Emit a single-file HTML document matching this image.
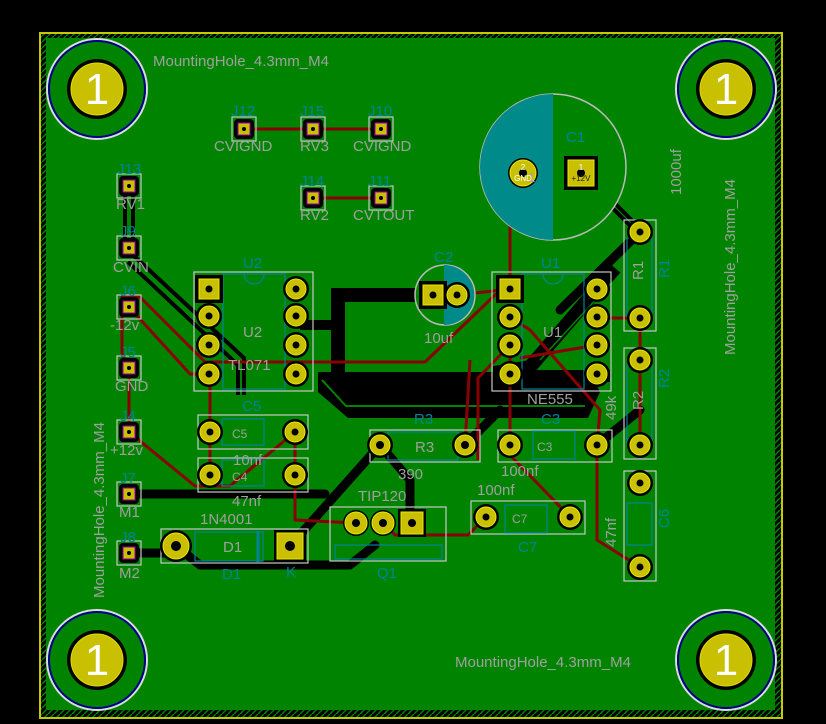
<!DOCTYPE html>
<html><head><meta charset="utf-8"><style>
html,body{margin:0;padding:0;background:#000;}
svg{display:block}
text{font-family:"Liberation Sans",sans-serif;}
</style></head><body>
<svg width="826" height="724" viewBox="0 0 826 724" xmlns="http://www.w3.org/2000/svg">
<defs>
<pattern id="hat" width="6" height="6" patternUnits="userSpaceOnUse"><rect width="6" height="6" fill="#000"/><path d="M0,6 L6,0" stroke="#008400" stroke-width="1.5"/></pattern>
</defs>
<rect width="826" height="724" fill="#000"/>
<rect x="40" y="33" width="742" height="685" fill="url(#hat)" stroke="#c8c800" stroke-width="2"/>
<rect x="46" y="38" width="729" height="672" fill="#008400"/>

<!-- zone outline / bands -->
<path d="M318,372 L590,372 L600,392 L588,418 L348,418 L318,392 Z" fill="#000"/>
<path d="M300,325 L336,325" stroke="#000" stroke-width="10"/>
<path d="M430,295 L338,295 L338,372" stroke="#000" stroke-width="14" fill="none"/>
<path d="M346,303 L420,303 M346,303 L346,365 L500,365" stroke="#008400" stroke-width="2" fill="none"/>
<path d="M322,380 L346,406 L585,406" stroke="#008400" stroke-width="2" fill="none"/>
<path d="M497,376 L610,376" stroke="#000" stroke-width="12"/>
<path d="M615,268 L530,367 L500,372 L500,395" stroke="#000" stroke-width="14" fill="none"/>
<path d="M612,282 L540,360" stroke="#008400" stroke-width="1.5"/>
<!-- black tracks -->
<g stroke="#000" stroke-width="9" fill="none" stroke-linecap="round" stroke-linejoin="round">
<path d="M129,494 L325,494"/>
<path d="M129,553 L176,553 M176,546 L200,565 L350,565 L375,545"/>
<path d="M290,546 L340,490 L380,445 M380,445 L410,480 L410,520"/>
<path d="M581,173 L640,232 L560,310"/>
<path d="M465,445 L500,410 M597,445 L640,410"/>
</g>
<g stroke="#000" stroke-width="4" fill="none">
<path d="M125,186 L125,248 M133,186 L133,248"/>
<path d="M128,262 L238,365 L238,395 M134,256 L244,358 L244,395"/>
</g>
<g stroke="#008400" stroke-width="1.2" fill="none">
<path d="M586,178 L640,232"/>
</g>
<!-- red tracks -->
<g stroke="#8a0000" stroke-width="3" fill="none" stroke-linejoin="round">
<path d="M244,129 L381,129 M313,198 L381,198"/>
<path d="M523,173 L510,190 L510,289 L457,295"/>
<path d="M510,289 L495,295 L425,362 L205,362 L140,297 L122,297 L122,355 L129,365 L129,432 L195,486 L230,486 L295,432"/>
<path d="M129,307 L190,374 L205,374"/>
<path d="M210,374 L210,475 M295,432 L295,520 L356,523"/>
<path d="M383,523 L395,535 L468,535 L486,517"/>
<path d="M510,317 L530,330 L600,410 L597,445 L597,540 L640,567"/>
<path d="M510,445 L510,345 M510,455 L570,517"/>
<path d="M510,345 L478,378 L478,460 M465,445 L470,360"/>
<path d="M597,318 L640,318 L640,445 M597,345 L520,358"/>
</g>

<g font-size="44" fill="#fff" text-anchor="middle">
<g transform="translate(97,89)"><circle r="50" fill="none" stroke="#ddd" stroke-width="2"/><circle r="48" fill="none" stroke="#00008a" stroke-width="2"/><circle r="30" fill="#000"/><circle r="26" fill="#c8c000" stroke="#dede00" stroke-width="1"/><text y="15">1</text></g>
<g transform="translate(726,89)"><circle r="50" fill="none" stroke="#ddd" stroke-width="2"/><circle r="48" fill="none" stroke="#00008a" stroke-width="2"/><circle r="30" fill="#000"/><circle r="26" fill="#c8c000" stroke="#dede00" stroke-width="1"/><text y="15">1</text></g>
<g transform="translate(97,660)"><circle r="50" fill="none" stroke="#ddd" stroke-width="2"/><circle r="48" fill="none" stroke="#00008a" stroke-width="2"/><circle r="30" fill="#000"/><circle r="26" fill="#c8c000" stroke="#dede00" stroke-width="1"/><text y="15">1</text></g>
<g transform="translate(726,660)"><circle r="50" fill="none" stroke="#ddd" stroke-width="2"/><circle r="48" fill="none" stroke="#00008a" stroke-width="2"/><circle r="30" fill="#000"/><circle r="26" fill="#c8c000" stroke="#dede00" stroke-width="1"/><text y="15">1</text></g>
</g>

<!-- C1 big cap -->
<circle cx="553" cy="167" r="73" fill="#008400" stroke="#bbb" stroke-width="1.5"/>
<path d="M553,94 A73,73 0 0,0 553,240 Z" fill="#008a8a"/>
<!-- C2 -->
<circle cx="445" cy="295" r="30" fill="#008400" stroke="#bbb" stroke-width="1.5"/>
<path d="M444,265 A30,30 0 0,1 444,325 Z" fill="#008a8a"/>

<g fill="none" stroke="#c8c8c8" stroke-width="1.2">
<rect x="194" y="272" width="119" height="119"/>
<rect x="492" y="272" width="119" height="119"/>
<rect x="198" y="415" width="110" height="34"/>
<rect x="198" y="458" width="110" height="34"/>
<rect x="370" y="430" width="110" height="32"/>
<rect x="498" y="430" width="114" height="32"/>
<rect x="471" y="501" width="114" height="33"/>
<rect x="330" y="507" width="116" height="54"/>
<rect x="161" y="529" width="147" height="34"/>
<rect x="624" y="220" width="32" height="111"/>
<rect x="624" y="348" width="32" height="111"/>
<rect x="624" y="471" width="32" height="110"/>
<rect x="117" y="174" width="24" height="24"/><rect x="117" y="236" width="24" height="24"/><rect x="117" y="295" width="24" height="24"/><rect x="117" y="356" width="24" height="24"/><rect x="117" y="420" width="24" height="24"/><rect x="117" y="482" width="24" height="24"/><rect x="117" y="541" width="24" height="24"/>
<rect x="232" y="117" width="24" height="24"/><rect x="301" y="117" width="24" height="24"/><rect x="369" y="117" width="24" height="24"/><rect x="301" y="186" width="24" height="24"/><rect x="369" y="186" width="24" height="24"/>
</g>
<g fill="none" stroke="#00849a" stroke-width="1.2">
<rect x="223" y="274" width="62" height="115"/><path d="M244,274 A10,10 0 0,0 264,274"/>
<rect x="522" y="274" width="62" height="115"/><path d="M543,274 A10,10 0 0,0 563,274"/>
<rect x="222" y="419" width="42" height="26"/><rect x="222" y="460" width="42" height="26"/>
<rect x="388" y="432" width="70" height="28"/><rect x="533" y="431" width="42" height="28"/>
<rect x="505" y="505" width="42" height="28"/>
<rect x="335" y="545" width="107" height="14"/>
<rect x="195" y="532" width="68" height="29"/>
<rect x="627" y="238" width="25" height="78"/><rect x="627" y="365" width="25" height="78"/><rect x="627" y="503" width="25" height="42"/>
</g>
<path d="M258,531 L258,562" stroke="#00849a" stroke-width="3"/>

<g>
<g fill="#000">
<circle cx="209" cy="316" r="13"/><circle cx="209" cy="345" r="13"/><circle cx="209" cy="374" r="13"/>
<circle cx="296" cy="289" r="13"/><circle cx="296" cy="316" r="13"/><circle cx="296" cy="345" r="13"/><circle cx="296" cy="374" r="13"/>
<circle cx="510" cy="317" r="13"/><circle cx="510" cy="345" r="13"/><circle cx="510" cy="374" r="13"/>
<circle cx="597" cy="289" r="13"/><circle cx="597" cy="317" r="13"/><circle cx="597" cy="345" r="13"/><circle cx="597" cy="374" r="13"/>
<circle cx="210" cy="432" r="13"/><circle cx="295" cy="432" r="13"/><circle cx="210" cy="475" r="13"/><circle cx="295" cy="475" r="13"/>
<circle cx="380" cy="445" r="13"/><circle cx="465" cy="445" r="13"/><circle cx="510" cy="445" r="13"/><circle cx="597" cy="445" r="13"/>
<circle cx="486" cy="517" r="13"/><circle cx="570" cy="517" r="13"/>
<circle cx="356" cy="523" r="13"/><circle cx="383" cy="523" r="13"/>
<circle cx="176" cy="546" r="16"/>
<circle cx="640" cy="232" r="13"/><circle cx="640" cy="318" r="13"/><circle cx="640" cy="360" r="13"/><circle cx="640" cy="445" r="13"/><circle cx="640" cy="483" r="13"/><circle cx="640" cy="567" r="13"/>
<circle cx="457" cy="295" r="13"/><circle cx="523" cy="173" r="15"/>
<rect x="195" y="275" width="28" height="28"/><rect x="496" y="275" width="28" height="28"/>
<rect x="398" y="509" width="28" height="28"/><rect x="274" y="530" width="32" height="32"/>
<rect x="419" y="281" width="28" height="28"/><rect x="564" y="156" width="34" height="34"/>
</g>
<g fill="#c8c000" stroke="#e8e800" stroke-width="1">
<circle cx="209" cy="316" r="10"/><circle cx="209" cy="345" r="10"/><circle cx="209" cy="374" r="10"/>
<circle cx="296" cy="289" r="10"/><circle cx="296" cy="316" r="10"/><circle cx="296" cy="345" r="10"/><circle cx="296" cy="374" r="10"/>
<circle cx="510" cy="317" r="10"/><circle cx="510" cy="345" r="10"/><circle cx="510" cy="374" r="10"/>
<circle cx="597" cy="289" r="10"/><circle cx="597" cy="317" r="10"/><circle cx="597" cy="345" r="10"/><circle cx="597" cy="374" r="10"/>
<circle cx="210" cy="432" r="10"/><circle cx="295" cy="432" r="10"/><circle cx="210" cy="475" r="10"/><circle cx="295" cy="475" r="10"/>
<circle cx="380" cy="445" r="10"/><circle cx="465" cy="445" r="10"/><circle cx="510" cy="445" r="10"/><circle cx="597" cy="445" r="10"/>
<circle cx="486" cy="517" r="10"/><circle cx="570" cy="517" r="10"/>
<circle cx="356" cy="523" r="11"/><circle cx="383" cy="523" r="11"/>
<circle cx="176" cy="546" r="13"/>
<circle cx="640" cy="232" r="10"/><circle cx="640" cy="318" r="10"/><circle cx="640" cy="360" r="10"/><circle cx="640" cy="445" r="10"/><circle cx="640" cy="483" r="10"/><circle cx="640" cy="567" r="10"/>
<circle cx="457" cy="295" r="10"/><circle cx="523" cy="173" r="13"/>
<rect x="199" y="279" width="20" height="20"/><rect x="500" y="279" width="20" height="20"/>
<rect x="401" y="512" width="22" height="22"/><rect x="277" y="533" width="26" height="26"/>
<rect x="423" y="285" width="20" height="20"/><rect x="568" y="160" width="26" height="26"/>
</g>
<g fill="#000">
<circle cx="209" cy="289" r="3.5"/><circle cx="209" cy="316" r="3.5"/><circle cx="209" cy="345" r="3.5"/><circle cx="209" cy="374" r="3.5"/>
<circle cx="296" cy="289" r="3.5"/><circle cx="296" cy="316" r="3.5"/><circle cx="296" cy="345" r="3.5"/><circle cx="296" cy="374" r="3.5"/>
<circle cx="510" cy="289" r="3.5"/><circle cx="510" cy="317" r="3.5"/><circle cx="510" cy="345" r="3.5"/><circle cx="510" cy="374" r="3.5"/>
<circle cx="597" cy="289" r="3.5"/><circle cx="597" cy="317" r="3.5"/><circle cx="597" cy="345" r="3.5"/><circle cx="597" cy="374" r="3.5"/>
<circle cx="210" cy="432" r="3.5"/><circle cx="295" cy="432" r="3.5"/><circle cx="210" cy="475" r="3.5"/><circle cx="295" cy="475" r="3.5"/>
<circle cx="380" cy="445" r="4"/><circle cx="465" cy="445" r="4"/><circle cx="510" cy="445" r="3.5"/><circle cx="597" cy="445" r="3.5"/>
<circle cx="486" cy="517" r="3.5"/><circle cx="570" cy="517" r="3.5"/>
<circle cx="356" cy="523" r="4"/><circle cx="383" cy="523" r="4"/><circle cx="412" cy="523" r="4"/>
<circle cx="176" cy="546" r="5"/><circle cx="290" cy="546" r="5"/>
<circle cx="640" cy="232" r="3.5"/><circle cx="640" cy="318" r="3.5"/><circle cx="640" cy="360" r="3.5"/><circle cx="640" cy="445" r="3.5"/><circle cx="640" cy="483" r="3.5"/><circle cx="640" cy="567" r="3.5"/>
<circle cx="433" cy="295" r="3.5"/><circle cx="457" cy="295" r="3.5"/><circle cx="523" cy="173" r="4"/><circle cx="581" cy="173" r="4"/>
</g>
<g>
<g fill="#000">
<rect x="119" y="176" width="20" height="20" rx="4"/><rect x="119" y="238" width="20" height="20" rx="4"/><rect x="119" y="297" width="20" height="20" rx="4"/><rect x="119" y="358" width="20" height="20" rx="4"/><rect x="119" y="422" width="20" height="20" rx="4"/><rect x="119" y="484" width="20" height="20" rx="4"/><rect x="119" y="543" width="20" height="20" rx="4"/>
<rect x="234" y="119" width="20" height="20" rx="4"/><rect x="303" y="119" width="20" height="20" rx="4"/><rect x="371" y="119" width="20" height="20" rx="4"/><rect x="303" y="188" width="20" height="20" rx="4"/><rect x="371" y="188" width="20" height="20" rx="4"/>
</g>
<g fill="#c8c000" stroke="#a000a0" stroke-width="1">
<rect x="123" y="180" width="12" height="12"/><rect x="123" y="242" width="12" height="12"/><rect x="123" y="301" width="12" height="12"/><rect x="123" y="362" width="12" height="12"/><rect x="123" y="426" width="12" height="12"/><rect x="123" y="488" width="12" height="12"/><rect x="123" y="547" width="12" height="12"/>
<rect x="238" y="123" width="12" height="12"/><rect x="307" y="123" width="12" height="12"/><rect x="375" y="123" width="12" height="12"/><rect x="307" y="192" width="12" height="12"/><rect x="375" y="192" width="12" height="12"/>
</g>
<g fill="#000">
<circle cx="129" cy="186" r="2"/><circle cx="129" cy="248" r="2"/><circle cx="129" cy="307" r="2"/><circle cx="129" cy="368" r="2"/><circle cx="129" cy="432" r="2"/><circle cx="129" cy="494" r="2"/><circle cx="129" cy="553" r="2"/>
<circle cx="244" cy="129" r="2"/><circle cx="313" cy="129" r="2"/><circle cx="381" cy="129" r="2"/><circle cx="313" cy="198" r="2"/><circle cx="381" cy="198" r="2"/>
</g>
</g>
</g>

<g fill="#00849a" font-size="15">
<text x="231" y="116">J12</text><text x="300" y="116">J15</text><text x="368" y="116">J10</text>
<text x="300" y="186">J14</text><text x="368" y="186">J11</text>
<text x="117" y="174">J13</text><text x="120" y="236">J9</text><text x="120" y="296">J6</text><text x="120" y="357">J5</text><text x="120" y="421">J4</text><text x="120" y="483">J7</text><text x="120" y="542">J8</text>
<text x="243" y="268">U2</text><text x="541" y="268">U1</text>
<text x="434" y="262">C2</text><text x="566" y="142">C1</text>
<text x="242" y="411">C5</text><text x="414" y="424">R3</text><text x="541" y="424">C3</text>
<text x="518" y="552">C7</text><text x="377" y="578">Q1</text><text x="222" y="579">D1</text><text x="286" y="577">K</text>
<text transform="translate(669,278) rotate(-90)">R1</text>
<text transform="translate(669,388) rotate(-90)">R2</text>
<text transform="translate(669,528) rotate(-90)">C6</text>
</g>
<g fill="#a0a0a0" font-size="15">
<text x="153" y="66">MountingHole_4.3mm_M4</text>
<text x="455" y="667">MountingHole_4.3mm_M4</text>
<text transform="translate(104,598) rotate(-90)">MountingHole_4.3mm_M4</text>
<text transform="translate(735,355) rotate(-90)">MountingHole_4.3mm_M4</text>
<text x="214" y="151">CVIGND</text><text x="300" y="151">RV3</text><text x="353" y="151">CVIGND</text>
<text x="300" y="220">RV2</text><text x="353" y="220">CVTOUT</text>
<text x="116" y="209">RV1</text><text x="113" y="272">CVIN</text><text x="110" y="330">-12v</text><text x="115" y="391">GND</text><text x="110" y="455">+12v</text><text x="119" y="517">M1</text><text x="119" y="578">M2</text>
<text x="243" y="337">U2</text><text x="228" y="370">TL071</text>
<text x="543" y="337">U1</text><text x="527" y="404">NE555</text>
<text x="424" y="343">10uf</text>
<text x="415" y="452">R3</text><text x="398" y="479">390</text>
<text x="233" y="465">10nf</text><text x="232" y="506">47nf</text>
<text x="501" y="476">100nf</text><text x="477" y="495">100nf</text>
<text x="358" y="501">TIP120</text><text x="200" y="524">1N4001</text>
<text x="223" y="552">D1</text>
<text transform="translate(681,195) rotate(-90)">1000uf</text>
<text transform="translate(616,547) rotate(-90)">47nf</text>
<text transform="translate(616,420) rotate(-90)">49k</text>
<text transform="translate(643,280) rotate(-90)">R1</text>
<text transform="translate(643,410) rotate(-90)">R2</text>
<text x="528" y="182" font-size="13">1</text>
<text x="537" y="451" font-size="12">C3</text>
<text x="512" y="523" font-size="12">C7</text>
<text x="232" y="438" font-size="12">C5</text>
<text x="232" y="481" font-size="12">C4</text>
</g>
<g fill="#fff" font-size="8" text-anchor="middle">
<text x="523" y="170">2</text><text x="523" y="181">GND</text>
<text x="581" y="170">1</text><text x="581" y="181" fill="#222">+12V</text>
</g>
</svg>
</body></html>
